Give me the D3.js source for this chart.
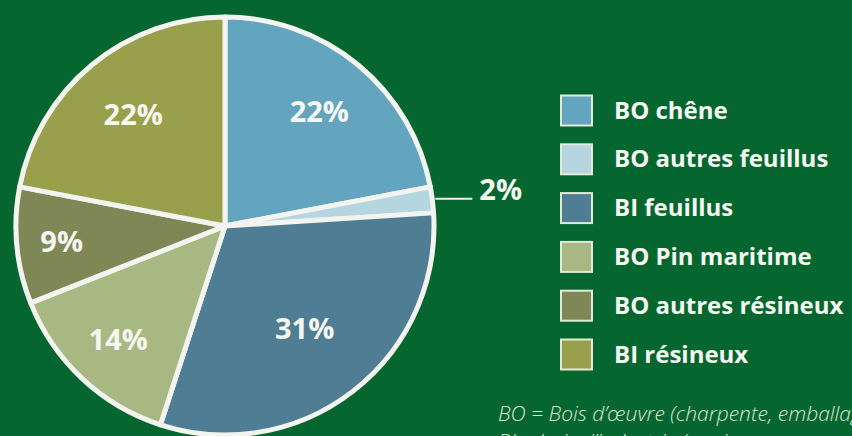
<!DOCTYPE html>
<html>
<head>
	<meta charset="utf-8">
	<title>Répartition des volumes</title>
	<style>
		html, body {
			margin: 0;
			padding: 0;
			background: #05672f;
			overflow: hidden;
		}
		svg {
			display: block;
			font-family: 'Open Sans', 'Noto Sans', sans-serif;
		}
	</style>
</head>
<body>
	<svg width='852' height='436'></svg>
<script src='https://d3js.org/d3.v7.min.js'></script>
<script>

	// data
	let categories = ['BO chêne', 'BO autres feuillus', 'BI feuillus', 'BO Pin maritime', 'BO autres résineux', 'BI résineux']
	let shares = [22, 2, 31, 14, 9, 22]
	let colors = ['#63a4bf', '#b5d6e0', '#4f7d94', '#a8b882', '#7f8757', '#99a04b']
	let footnotes = [
		'BO = Bois d\u2019œuvre (charpente, emballage, menuiserie)',
		'BI = bois d\u2019industrie (papier, panneaux, bois énergie)'
	]

	let width = 852
	let height = 436

	let svg = d3.select('svg')

	let cx = 225
	let cy = 226
	let radius = 209

	let color = d3.scaleOrdinal()
		.domain(categories)
		.range(colors)

	let pie = d3.pie()
		.sort(null)
		.value(d => d.value)

	let rows = categories.map((c, i) => ({ name: c, value: shares[i] }))
	let arcs = pie(rows)

	let arc = d3.arc()
		.innerRadius(0)
		.outerRadius(radius)

	let g = svg.append('g')
		.attr('transform', `translate(${cx},${cy})`)

	g.selectAll('.slice')
		.data(arcs)
		.join('path')
		.attr('class', 'slice')
		.attr('d', arc)
		.style('fill', d => color(d.data.name))
		.style('stroke', '#f3f4ef')
		.style('stroke-width', 5)
		.style('stroke-linejoin', 'round')

	// labels sit at different depths inside each slice
	let labelDepth = {
		'BO chêne': 148,
		'BI feuillus': 130,
		'BO Pin maritime': 156,
		'BO autres résineux': 164,
		'BI résineux': 144
	}

	let inside = arcs.filter(d => d.data.value >= 5)

	g.selectAll('.pct')
		.data(inside)
		.join('text')
		.attr('class', 'pct')
		.attr('transform', d => {
			let r = labelDepth[d.data.name]
			let p = d3.arc().innerRadius(r).outerRadius(r).centroid(d)
			return `translate(${p[0]},${p[1]})`
		})
		.attr('text-anchor', 'middle')
		.attr('dy', '0.36em')
		.style('fill', '#f7f7f2')
		.style('font-weight', 700)
		.style('font-size', '29px')
		.text(d => d.data.value + '%')

	// the small slice gets a leader line out to the right
	let small = arcs.filter(d => d.data.value < 5)
	small.forEach(d => {
		let mid = (d.startAngle + d.endAngle) / 2
		let y = -Math.cos(mid) * radius
		let x0 = Math.sin(mid) * radius + 3
		g.append('line')
			.attr('x1', x0)
			.attr('x2', x0 + 37)
			.attr('y1', y - 1)
			.attr('y2', y - 1)
			.style('stroke', '#f3f4ef')
			.style('stroke-width', 2)
		g.append('text')
			.attr('x', x0 + 44)
			.attr('y', y - 1)
			.attr('dy', '0.05em')
			.style('fill', '#f7f7f2')
			.style('font-weight', 700)
			.style('font-size', '29px')
			.text(d.data.value + '%')
	})

	// legend
	let legendY = d3.scalePoint()
		.domain(categories)
		.range([110, 354])

	let legend = svg.append('g')
		.selectAll('.item')
		.data(categories)
		.join('g')
		.attr('class', 'item')
		.attr('transform', d => `translate(560,${legendY(d)})`)

	legend.append('rect')
		.attr('x', 1)
		.attr('y', -14.5)
		.attr('width', 31)
		.attr('height', 30)
		.style('fill', d => color(d))
		.style('stroke', '#e4ead8')
		.style('stroke-width', 2)

	legend.append('text')
		.attr('x', 54)
		.attr('dy', '0.36em')
		.style('fill', '#f7f7f2')
		.style('font-weight', 700)
		.style('font-size', '24px')
		.text(d => d)

	svg.append('g')
		.selectAll('.note')
		.data(footnotes)
		.join('text')
		.attr('class', 'note')
		.attr('x', 498)
		.attr('y', (d, i) => 421 + i * 28)
		.style('fill', '#dfe6d6')
		.style('font-style', 'italic')
		.style('font-weight', 300)
		.style('font-size', '21px')
		.text(d => d)

</script>
</body>
</html>
